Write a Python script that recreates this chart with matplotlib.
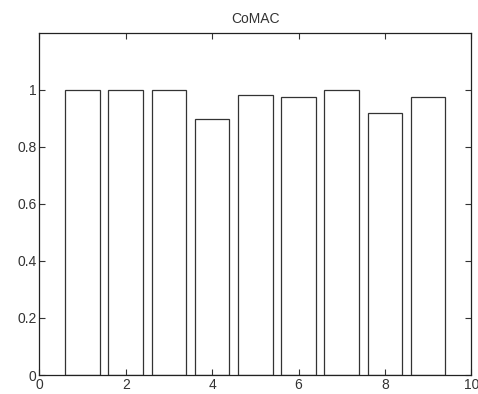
import matplotlib
matplotlib.use("Agg")
import matplotlib.pyplot as plt

plt.rcParams["font.family"] = ["Liberation Sans", "DejaVu Sans"]

# bar index and CoMAC value per mode
modes = [1, 2, 3, 4, 5, 6, 7, 8, 9]
comac = [1.0, 1.0, 1.0, 0.898, 0.982, 0.975, 1.0, 0.918, 0.975]
xticks = [0, 2, 4, 6, 8, 10]
yticks = [0, 0.2, 0.4, 0.6, 0.8, 1]

fig = plt.figure(figsize=(4.78, 3.94), dpi=100)
ax = fig.add_axes([0.0823, 0.0482, 0.9037, 0.8688])

ax.bar(modes, comac, width=0.8, color="white", edgecolor="#333333", linewidth=0.9)

ax.set_xlim(0, 10)
ax.set_ylim(0, 1.2)
ax.set_xticks(xticks)
ax.set_yticks(yticks)
ax.set_xticklabels([str(t) for t in xticks])
ax.set_yticklabels(["0", "0.2", "0.4", "0.6", "0.8", "1"])
ax.tick_params(direction="in", top=True, right=True, length=4, width=0.8,
               labelsize=10, colors="#333333", pad=2)
for spine in ax.spines.values():
    spine.set_linewidth(0.9)
    spine.set_color("#222222")

ax.set_title("CoMAC", fontsize=10, color="#333333", pad=7)

fig.savefig("out.png", dpi=100)
